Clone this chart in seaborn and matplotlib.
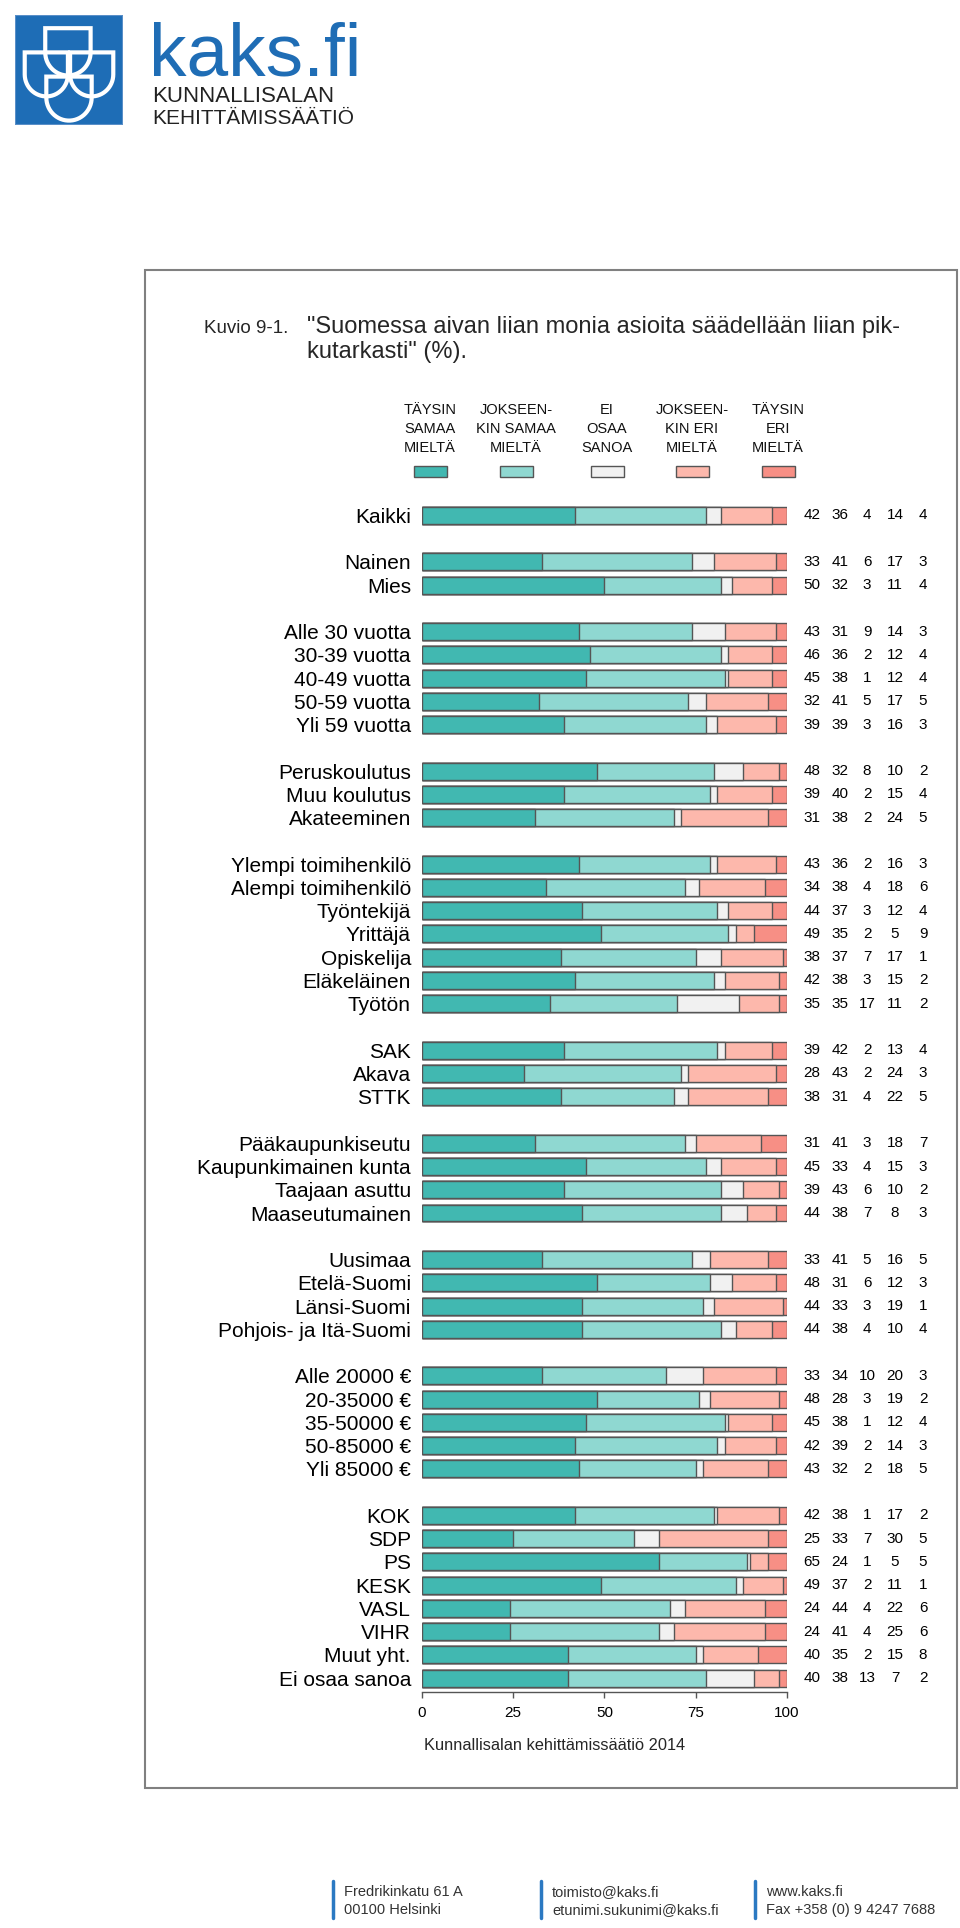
import numpy as np
import pandas as pd
import matplotlib
matplotlib.use("Agg")
import matplotlib.pyplot as plt
import matplotlib.transforms as mtransforms
from matplotlib.patches import Rectangle, Polygon
from matplotlib.lines import Line2D
import seaborn as sns

# rows, top to bottom
labels = ["Kaikki",
          "Nainen", "Mies",
          "Alle 30 vuotta", "30-39 vuotta", "40-49 vuotta", "50-59 vuotta", "Yli 59 vuotta",
          "Peruskoulutus", "Muu koulutus", "Akateeminen",
          "Ylempi toimihenkilö", "Alempi toimihenkilö", "Työntekijä", "Yrittäjä",
          "Opiskelija", "Eläkeläinen", "Työtön",
          "SAK", "Akava", "STTK",
          "Pääkaupunkiseutu", "Kaupunkimainen kunta", "Taajaan asuttu", "Maaseutumainen",
          "Uusimaa", "Etelä-Suomi", "Länsi-Suomi", "Pohjois- ja Itä-Suomi",
          "Alle 20000 €", "20-35000 €", "35-50000 €", "50-85000 €", "Yli 85000 €",
          "KOK", "SDP", "PS", "KESK", "VASL", "VIHR", "Muut yht.", "Ei osaa sanoa"]
group_sizes = [1, 2, 5, 3, 7, 3, 4, 4, 5, 8]

taysin_samaa = [42, 33, 50, 43, 46, 45, 32, 39, 48, 39, 31, 43, 34, 44, 49, 38, 42, 35,
                39, 28, 38, 31, 45, 39, 44, 33, 48, 44, 44, 33, 48, 45, 42, 43,
                42, 25, 65, 49, 24, 24, 40, 40]
jokseenkin_samaa = [36, 41, 32, 31, 36, 38, 41, 39, 32, 40, 38, 36, 38, 37, 35, 37, 38, 35,
                    42, 43, 31, 41, 33, 43, 38, 41, 31, 33, 38, 34, 28, 38, 39, 32,
                    38, 33, 24, 37, 44, 41, 35, 38]
ei_osaa = [4, 6, 3, 9, 2, 1, 5, 3, 8, 2, 2, 2, 4, 3, 2, 7, 3, 17,
           2, 2, 4, 3, 4, 6, 7, 5, 6, 3, 4, 10, 3, 1, 2, 2,
           1, 7, 1, 2, 4, 4, 2, 13]
jokseenkin_eri = [14, 17, 11, 14, 12, 12, 17, 16, 10, 15, 24, 16, 18, 12, 5, 17, 15, 11,
                  13, 24, 22, 18, 15, 10, 8, 16, 12, 19, 10, 20, 19, 12, 14, 18,
                  17, 30, 5, 11, 22, 25, 15, 7]
taysin_eri = [4, 3, 4, 3, 4, 4, 5, 3, 2, 4, 5, 3, 6, 4, 9, 1, 2, 2,
              4, 3, 5, 7, 3, 2, 3, 5, 3, 1, 4, 3, 2, 4, 3, 5,
              2, 5, 5, 1, 6, 6, 8, 2]

legend_labels = ["TÄYSIN\nSAMAA\nMIELTÄ", "JOKSEEN-\nKIN SAMAA\nMIELTÄ", "EI\nOSAA\nSANOA",
                 "JOKSEEN-\nKIN ERI\nMIELTÄ", "TÄYSIN\nERI\nMIELTÄ"]
colors = ["#41b8b1", "#8fd8d1", "#f1f1f1", "#fdb8ac", "#f78f85"]
xticks = [0, 25, 50, 75, 100]

sns.set_theme(style="white")
plt.rcParams["font.family"] = ["Liberation Sans", "DejaVu Sans"]
EDGE = "#555555"

W, H = 960, 1928
fig = plt.figure(figsize=(W / 100, H / 100), dpi=100)
fig.patch.set_facecolor("white")


def fx(x):
    return x / W


def fy(y):
    return 1 - y / H


# one blank slot between groups
pos = []
slot = 0
for n in group_sizes:
    for _ in range(n):
        pos.append(slot)
        slot += 1
    slot += 1
pos = np.array(pos, dtype=float)

df = pd.DataFrame({"pos": pos, "s1": taysin_samaa, "s2": jokseenkin_samaa,
                   "s3": ei_osaa, "s4": jokseenkin_eri, "s5": taysin_eri})
cols = ["s1", "s2", "s3", "s4", "s5"]
cum = df[cols].cumsum(axis=1)

ax = fig.add_axes([fx(422), fy(1692), (786.7 - 422) / W, (1692 - 501.5) / H])
# stacked bars: draw cumulative totals from the back
for col, c in reversed(list(zip(cols, colors))):
    sns.barplot(x=cum[col], y=df["pos"], orient="h", native_scale=True, color=c,
                saturation=1, edgecolor=EDGE, linewidth=1.0, width=0.73,
                errorbar=None, ax=ax)

ax.set_xlim(0, 100)
ax.set_ylim(pos[-1] + 0.6, -0.6)
ax.set_xlabel("")
ax.set_ylabel("")
for s in ["top", "right", "left"]:
    ax.spines[s].set_visible(False)
ax.spines["bottom"].set_color(EDGE)
ax.spines["bottom"].set_linewidth(1.0)
ax.set_xticks(xticks)
ax.set_xticklabels([str(t) for t in xticks])
ax.tick_params(axis="x", bottom=True, direction="out", length=4, width=1, color=EDGE,
               labelsize=11, pad=6, labelcolor="black")
ax.set_yticks(pos)
ax.set_yticklabels(labels)
ax.tick_params(axis="y", left=False, length=0, pad=8, labelsize=15, labelcolor="black")

# value columns on the right
trans = mtransforms.blended_transform_factory(fig.transFigure, ax.transData)
col_x = [812, 840, 867, 895, 923]
for i in range(len(labels)):
    for col, cx in zip(cols, col_x):
        ax.text(fx(cx), pos[i], str(df[col].iloc[i]), transform=trans, ha="center",
                va="center", fontsize=11, color="black")

# legend
leg_x = [430, 516, 607, 692, 778]
for lab, c, cx in zip(legend_labels, colors, leg_x):
    fig.text(fx(cx), fy(429), lab, ha="center", va="center", fontsize=10.5,
             linespacing=1.45, color="#111111")
    fig.add_artist(Rectangle((fx(cx - 16), fy(477)), 33 / W, 11 / H, transform=fig.transFigure,
                             facecolor=c, edgecolor=EDGE, lw=1))

# title
fig.text(fx(204), fy(328), "Kuvio 9-1.", fontsize=13.5, va="center")
fig.text(fx(307), fy(327), "\"Suomessa aivan liian monia asioita säädellään liian pik-",
         fontsize=17, va="center")
fig.text(fx(307), fy(352), "kutarkasti\" (%).", fontsize=17, va="center")

fig.text(fx(424), fy(1745), "Kunnallisalan kehittämissäätiö 2014", fontsize=11.8, va="center")

# frame around the chart
fig.add_artist(Rectangle((fx(145), fy(1788)), (957 - 145) / W, (1788 - 270) / H,
                         transform=fig.transFigure, fill=False, edgecolor="#808080", lw=1.5))

# logo
lax = fig.add_axes([fx(15), fy(125), 108 / W, 110 / H])
lax.set_xlim(0, 1)
lax.set_ylim(0, 1)
lax.axis("off")
lax.add_patch(Rectangle((0, 0), 1, 1, facecolor="#1e6db6", edgecolor="#5a8fc8", lw=1.5))


def shield(x0, x1, ytop, ymid):
    t = np.linspace(0, np.pi, 30)
    cx, r = (x0 + x1) / 2, (x1 - x0) / 2
    arc = np.column_stack([cx + r * np.cos(t), ymid - r * np.sin(t)])
    return np.vstack([[x0, ytop], [x1, ytop], arc])


for x0, x1, ytop, ymid in [(0.28, 0.70, 0.88, 0.66), (0.09, 0.49, 0.66, 0.46),
                           (0.51, 0.91, 0.66, 0.46), (0.29, 0.71, 0.44, 0.25)]:
    pts = shield(x0, x1, ytop, ymid)
    lax.add_patch(Polygon(pts, closed=True, facecolor="none", edgecolor="white", lw=3))

fig.text(fx(149), fy(75), "kaks.fi", fontsize=54, color="#1f6db5", va="baseline")
fig.text(fx(152), fy(97), "KUNNALLISALAN", fontsize=16, color="#222222", va="center")
fig.text(fx(152), fy(118), "KEHITTÄMISSÄÄTIÖ", fontsize=15, color="#222222", va="center")

# footer
footer = [(333, "Fredrikinkatu 61 A", "00100 Helsinki"),
          (541, "toimisto@kaks.fi", "etunimi.sukunimi@kaks.fi"),
          (755, "www.kaks.fi", "Fax +358 (0) 9 4247 7688")]
for bx, l1, l2 in footer:
    fig.add_artist(Line2D([fx(bx), fx(bx)], [fy(1881), fy(1918)], color="#2b79c2", lw=2.5))
    fig.text(fx(bx + 11), fy(1892), l1, fontsize=10.5, color="#333333", va="center")
    fig.text(fx(bx + 11), fy(1910), l2, fontsize=10.5, color="#333333", va="center")

fig.savefig("out.png", dpi=100, facecolor="white")
